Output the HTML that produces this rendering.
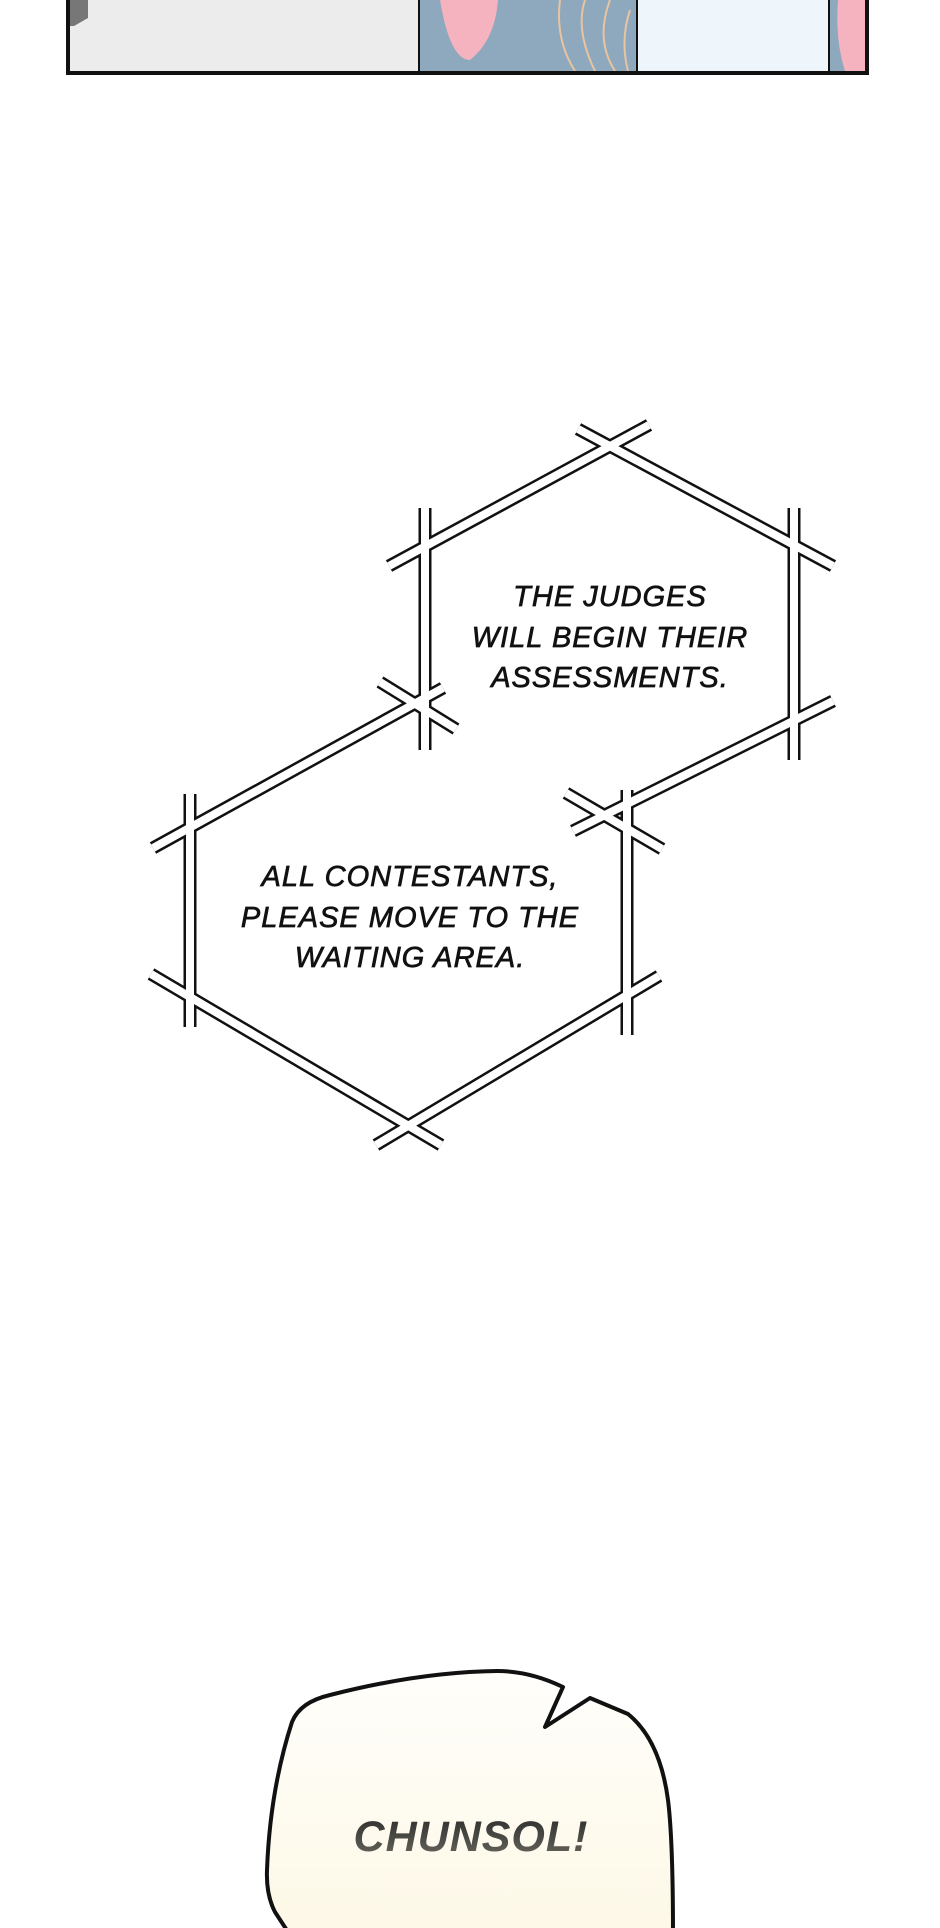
<!DOCTYPE html>
<html><head><meta charset="utf-8"><style>
html,body{margin:0;padding:0;background:#fff;}
body{width:940px;height:1928px;position:relative;overflow:hidden;font-family:"Liberation Sans",sans-serif;}
svg{position:absolute;left:0;top:0;}
</style></head><body>
<svg width="940" height="1928" viewBox="0 0 940 1928" xmlns="http://www.w3.org/2000/svg">
<defs>
<linearGradient id="bg" x1="0" y1="0" x2="0" y2="1"><stop offset="0" stop-color="#fffefb"/><stop offset="1" stop-color="#fdf8e6"/></linearGradient>
<linearGradient id="tg" x1="0" y1="0" x2="0" y2="1"><stop offset="0" stop-color="#2a2a2a"/><stop offset="1" stop-color="#6a6a60"/></linearGradient>
</defs>
<rect x="69" y="0" width="350" height="71" fill="#ececec"/>
<path d="M69 0 L88 0 L88 18 L74 26 L69 26 Z" fill="#777"/>
<rect x="420" y="0" width="216" height="71" fill="#8ea8bd"/>
<path d="M440 0 Q450 60 470 60 Q495 40 498 0 Z" fill="#f4b3bf"/>
<path d="M560 0 Q555 40 575 71 M585 0 Q575 30 595 71 M610 0 Q595 40 615 71 M630 10 Q620 40 628 71" stroke="#e8c4a0" stroke-width="2" fill="none"/>
<rect x="638" y="0" width="190" height="71" fill="#eef6fb"/>
<rect x="830" y="0" width="37" height="71" fill="#8ea8bd"/>
<path d="M838 0 L866 0 L866 71 L845 71 Q835 40 838 0Z" fill="#f4b3bf"/>
<path d="M419 0 V71 M637 0 V71 M829 0 V71" stroke="#111" stroke-width="2"/>
<path d="M68 0 V73 H867 V0" stroke="#111" stroke-width="4" fill="none"/>
<g stroke-linecap="butt" fill="none">
<g stroke="#111" stroke-width="13">
<line x1="389" y1="566" x2="649" y2="425"/>
<line x1="578" y1="429" x2="833" y2="566"/>
<line x1="425" y1="508" x2="425" y2="750"/>
<line x1="794" y1="508" x2="794" y2="760"/>
<line x1="573" y1="831" x2="833" y2="701"/>
<line x1="153" y1="848" x2="443" y2="688"/>
<line x1="380" y1="682" x2="456" y2="729"/>
<line x1="190" y1="794" x2="190" y2="1027"/>
<line x1="151" y1="974" x2="441" y2="1145"/>
<line x1="376" y1="1145" x2="659" y2="976"/>
<line x1="627" y1="790" x2="627" y2="1035"/>
<line x1="566" y1="793" x2="662" y2="849"/>
</g>
<g stroke="#fff" stroke-width="8">
<line x1="389" y1="566" x2="649" y2="425"/>
<line x1="578" y1="429" x2="833" y2="566"/>
<line x1="425" y1="508" x2="425" y2="750"/>
<line x1="794" y1="508" x2="794" y2="760"/>
<line x1="573" y1="831" x2="833" y2="701"/>
<line x1="153" y1="848" x2="443" y2="688"/>
<line x1="380" y1="682" x2="456" y2="729"/>
<line x1="190" y1="794" x2="190" y2="1027"/>
<line x1="151" y1="974" x2="441" y2="1145"/>
<line x1="376" y1="1145" x2="659" y2="976"/>
<line x1="627" y1="790" x2="627" y2="1035"/>
<line x1="566" y1="793" x2="662" y2="849"/>
</g>
</g>
<g font-family="Liberation Sans, sans-serif" font-style="italic" font-size="29" fill="#111" stroke="#111" stroke-width="0.7" text-anchor="middle" letter-spacing="1">
<text x="610" y="606">THE JUDGES</text>
<text x="610" y="647">WILL BEGIN THEIR</text>
<text x="610" y="687">ASSESSMENTS.</text>
<text x="410" y="886">ALL CONTESTANTS,</text>
<text x="410" y="927">PLEASE MOVE TO THE</text>
<text x="410" y="967">WAITING AREA.</text>
</g>
<path d="M290 1935 L275 1912 Q266 1895 267 1870 Q270 1790 292 1722 Q300 1702 330 1695 Q420 1672 497 1671 Q530 1671 563 1687 L545 1727 L590 1698 L628 1714 Q660 1740 668 1800 Q673 1840 673 1935 Z" fill="url(#bg)" stroke="#111" stroke-width="4" stroke-linejoin="round"/>
<text x="471" y="1851" font-family="Liberation Sans, sans-serif" font-weight="bold" font-style="italic" font-size="43" fill="url(#tg)" text-anchor="middle" letter-spacing="1">CHUNSOL!</text>
</svg>
</body></html>
